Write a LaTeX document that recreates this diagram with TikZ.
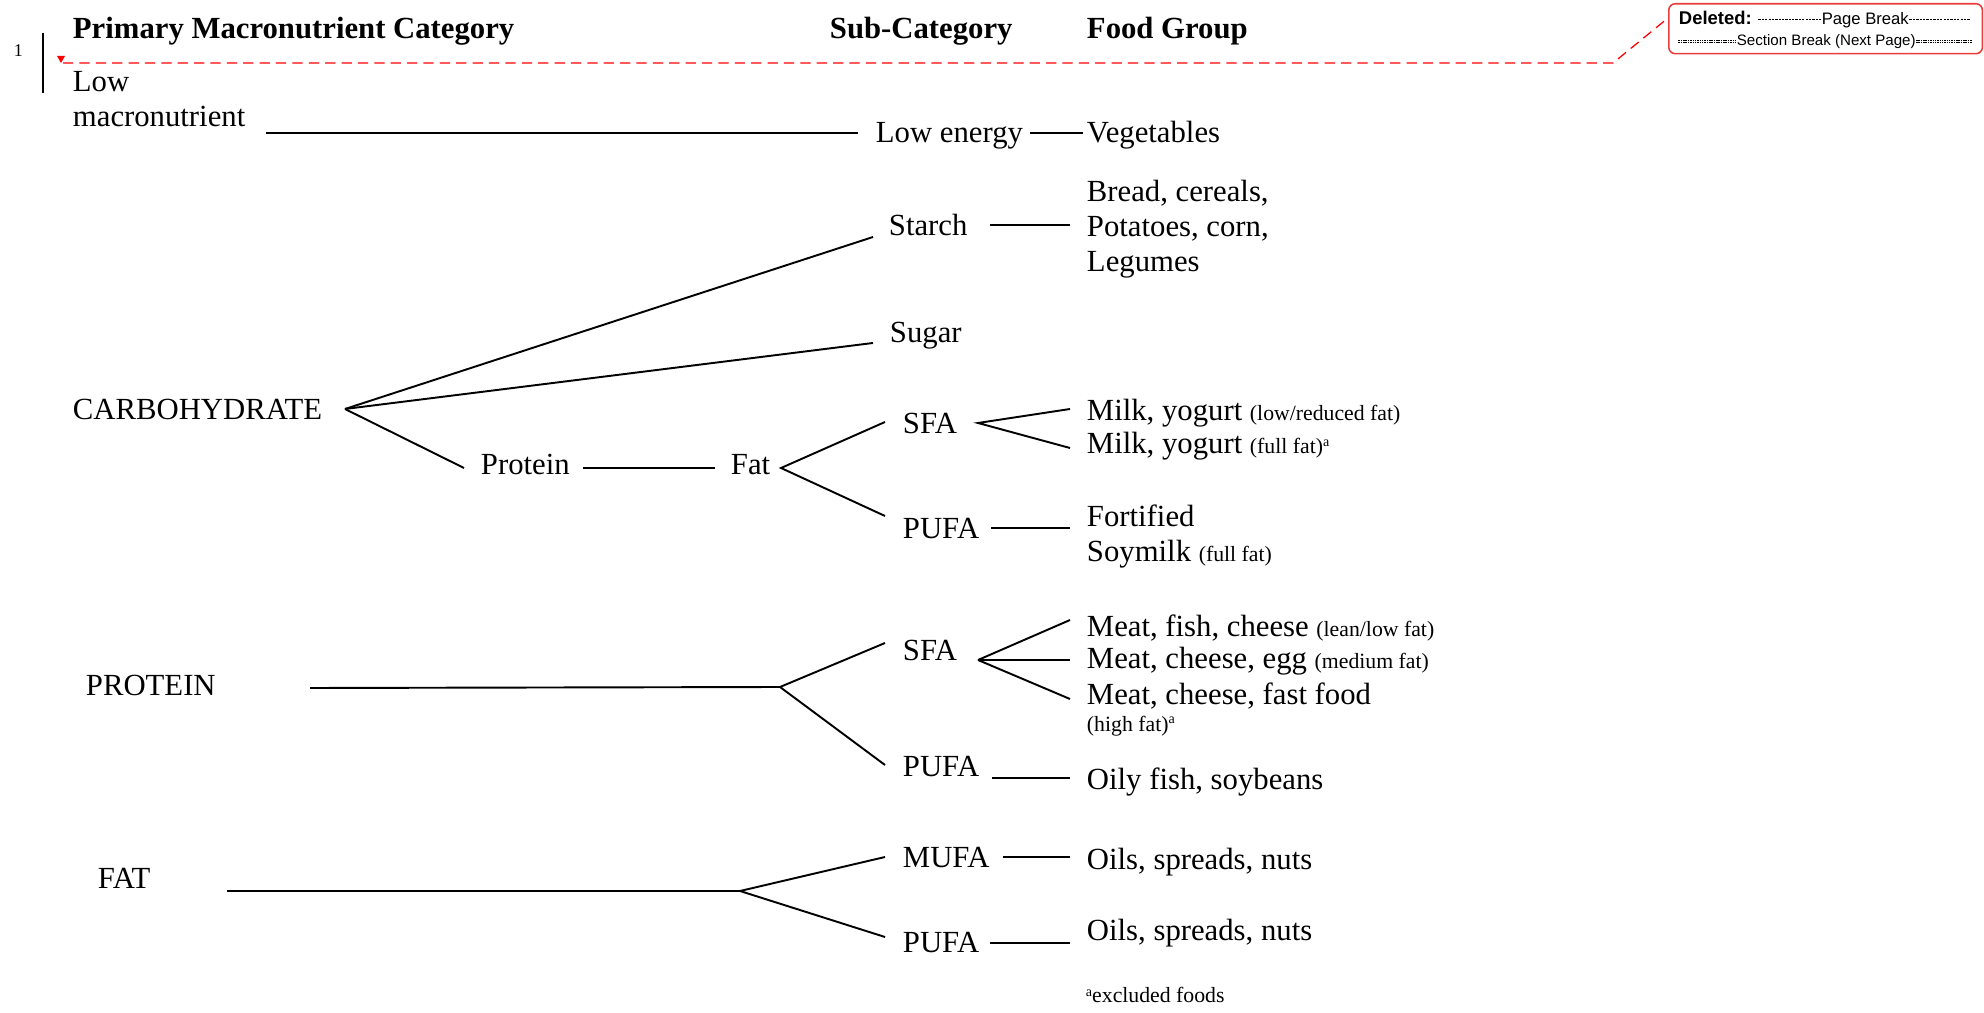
\documentclass[tikz,border=0pt]{standalone}
\usepackage{fontspec}
\setmainfont{Liberation Serif}
\setsansfont{Liberation Sans}
\usepackage{tikz}

\definecolor{trkred}{RGB}{235,60,60}
\newcommand{\supa}{\raisebox{0.55ex}{\fontsize{5.5}{6}\selectfont a}}
\newcommand{\smalltxt}[1]{{\fontsize{8.5}{10}\selectfont #1}}
\newcommand{\dashfill}[1]{\xleaders\hbox to 1.3pt{\hss\rule[0.3em]{0.9pt}{0.3pt}\hss}\hskip#1\relax}
\newcommand{\dblfill}[1]{\xleaders\hbox to 0.9pt{\hss\raise0.22em\vbox{\hrule width0.6pt height0.35pt\vskip0.3pt\hrule width0.6pt height0.35pt}\hss}\hskip#1\relax}

\begin{document}
\begin{tikzpicture}[x=0.390625pt, y=-0.390625pt, line width=0.75pt,
    txt/.style={anchor=base west, inner sep=0pt, align=left,
      font=\fontsize{12}{13.7}\selectfont},
    hdr/.style={txt, font=\fontsize{12}{13.7}\selectfont\bfseries},
    trk/.style={red, dashed, line width=0.5pt, dash pattern=on 4pt off 2.4pt}]
  \useasboundingbox (0,0) rectangle (1984,1013);

  % column heads
  \node[hdr] (hdrcat)  at (72,39)   {Primary Macronutrient Category};
  \node[hdr] (hdrsub)  at (829,39)  {Sub-Category};
  \node[hdr] (hdrfood) at (1086,39) {Food Group};

  % track changes margin
  \node[anchor=base west, inner sep=0pt, font=\fontsize{7}{8}\selectfont] (lnum) at (13,57) {1};
  \draw[line width=1pt] (43,33) -- (43,93);
  \fill[red] (57,56) -- (65,56) -- (61,63) -- cycle;
  \node[draw=trkred, rounded corners=2.5pt, line width=0.6pt, inner sep=0pt,
    minimum width=122.5pt, minimum height=19.5pt, anchor=north west] (delbox) at (1668,3) {};
  \node[anchor=base west, inner sep=0pt, font=\fontsize{6.5}{7}\sffamily] (delline1) at (1678,25)
    {{\fontsize{7.2}{8}\selectfont\bfseries Deleted:} \dashfill{25pt}Page Break\dashfill{24pt}\kern0pt};
  \node[anchor=base west, inner sep=0pt, font=\fontsize{5.9}{7}\sffamily] (delline2) at (1677,46)
    {\dblfill{23pt}Section Break (Next Page)\dblfill{22pt}\kern0pt};
  \coordinate (trkstart) at (63,63);
  \coordinate (trkbend)  at (1613,63);
  \coordinate (delhook)  at (1668,18);
  \draw[trk] (trkstart) -- (trkbend) -- (delhook);

  % low macronutrient (multi-line nodes sit on their last line)
  \node[txt] (lowmac) at (72,127)   {Low\\macronutrient};
  \node[txt] (lowen)  at (875,143)  {Low energy};
  \node[txt] (veg)    at (1086,143) {Vegetables};
  \coordinate (lowa) at (266,133);  \coordinate (lowb) at (858,133);
  \coordinate (lowc) at (1030,133); \coordinate (lowd) at (1083,133);
  \draw (lowa) -- (lowb);
  \draw (lowc) -- (lowd);

  % carbohydrate
  \node[txt] (carb)     at (72,420)   {CARBOHYDRATE};
  \node[txt] (starch)   at (888,236)  {Starch};
  \node[txt] (grain)    at (1086,272) {Bread, cereals,\\Potatoes, corn,\\Legumes};
  \node[txt] (sugar)    at (889,343)  {Sugar};
  \node[txt] (prot)     at (480,475)  {Protein};
  \node[txt] (fat)      at (730,475)  {Fat};
  \node[txt] (csfa)     at (902,434)  {SFA};
  \node[txt] (milklow)  at (1086,421) {Milk, yogurt \smalltxt{(low/reduced fat)}};
  \node[txt] (milkfull) at (1086,454) {Milk, yogurt \smalltxt{(full fat)}\supa};
  \node[txt] (cpufa)    at (902,539)  {PUFA};
  \node[txt] (soy)      at (1086,562) {Fortified\\Soymilk \smalltxt{(full fat)}};
  \coordinate (cbr)    at (345,409);
  \coordinate (stin)   at (873,237);
  \coordinate (suin)   at (873,343);
  \coordinate (prin)   at (464,468);
  \coordinate (stouta) at (990,225);  \coordinate (stoutb) at (1070,225);
  \coordinate (prout)  at (583,468);  \coordinate (fain)   at (715,468);
  \coordinate (fbr)    at (781,468);
  \coordinate (csin)   at (885,422);  \coordinate (cpin)   at (885,516);
  \coordinate (csbr)   at (978,423);
  \coordinate (mla)    at (1070,409); \coordinate (mfa)    at (1070,448);
  \coordinate (cpa)    at (991,528);  \coordinate (cpb)    at (1070,528);
  \draw (cbr) -- (stin);
  \draw (cbr) -- (suin);
  \draw (cbr) -- (prin);
  \draw (stouta) -- (stoutb);
  \draw (prout) -- (fain);
  \draw (csin) -- (fbr) -- (cpin);
  \draw (mla) -- (csbr) -- (mfa);
  \draw (cpa) -- (cpb);

  % protein
  \node[txt] (protein)  at (85,695)   {PROTEIN};
  \node[txt] (psfa)     at (902,660)  {SFA};
  \node[txt] (meatlean) at (1086,636) {Meat, fish, cheese \smalltxt{(lean/low fat)}};
  \node[txt] (meatmed)  at (1086,669) {Meat, cheese, egg \smalltxt{(medium fat)}};
  \node[txt, font=\fontsize{12}{10.5}\selectfont] (meathigh) at (1086,731)
    {Meat, cheese, fast food\\\smalltxt{(high fat)}\supa};
  \node[txt] (ppufa)    at (902,776)  {PUFA};
  \node[txt] (oily)     at (1086,789) {Oily fish, soybeans};
  \coordinate (pra)  at (310,688);
  \coordinate (pbr)  at (780,687);
  \coordinate (psin) at (885,643);  \coordinate (ppin) at (885,765);
  \coordinate (psbr) at (978,660);
  \coordinate (mta)  at (1070,620); \coordinate (mtb)  at (1070,660); \coordinate (mtc) at (1070,699);
  \coordinate (ppa)  at (992,778);  \coordinate (ppb)  at (1070,778);
  \draw (pra) -- (pbr);
  \draw (psin) -- (pbr) -- (ppin);
  \draw (psbr) -- (mta);
  \draw (psbr) -- (mtb);
  \draw (psbr) -- (mtc);
  \draw (ppa) -- (ppb);

  % fat
  \node[txt] (fatcat) at (97,888)   {FAT};
  \node[txt] (mufa)   at (902,867)  {MUFA};
  \node[txt] (oilsa)  at (1086,869) {Oils, spreads, nuts};
  \node[txt] (fpufa)  at (902,952)  {PUFA};
  \node[txt] (oilsb)  at (1086,940) {Oils, spreads, nuts};
  \coordinate (fta)   at (227,891);
  \coordinate (fatbr) at (740,891);
  \coordinate (muin)  at (885,857); \coordinate (fpin) at (885,937);
  \coordinate (mua)   at (1003,857); \coordinate (mub) at (1070,857);
  \coordinate (fpa)   at (990,943);  \coordinate (fpb) at (1070,943);
  \draw (fta) -- (fatbr);
  \draw (muin) -- (fatbr) -- (fpin);
  \draw (mua) -- (mub);
  \draw (fpa) -- (fpb);

  % footnote
  \node[txt, font=\fontsize{8.5}{10}\selectfont] (note) at (1085,1002) {\supa excluded foods};
\end{tikzpicture}
\end{document}
